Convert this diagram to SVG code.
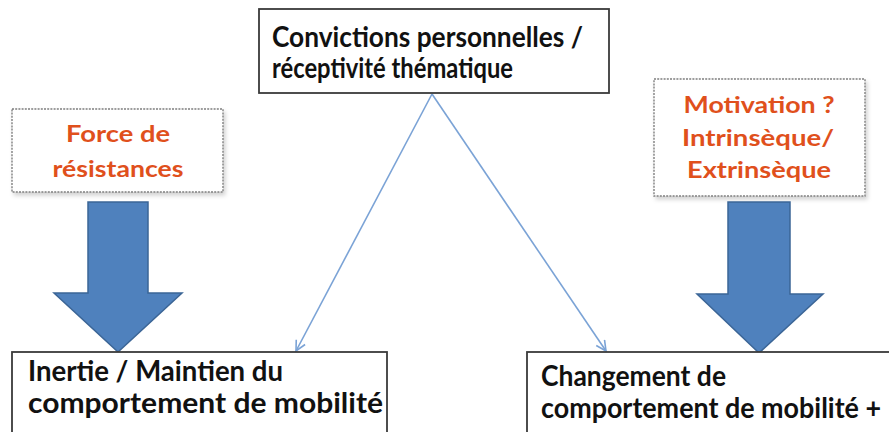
<svg xmlns="http://www.w3.org/2000/svg" width="889" height="432" viewBox="0 0 889 432">
<defs>
<style>
.box{fill:#fff;stroke:#3a3a3a;stroke-width:1.8}
.dbox{fill:#fff;stroke:#7f7f7f;stroke-width:1.4;stroke-dasharray:2 1.2}
.t{font-family:Lato,"Open Sans","Liberation Sans",sans-serif;font-weight:bold;font-size:28px;fill:#111}
.o{font-family:Lato,"Open Sans","Liberation Sans",sans-serif;font-weight:bold;font-size:22px;fill:#E0501C;text-anchor:middle}
.big{fill:#4F81BD;stroke:#3B6596;stroke-width:1.5}
.con{stroke:#7BA3D6;stroke-width:1.6;fill:none;marker-end:url(#ah)}
</style>
<marker id="ah" markerWidth="14" markerHeight="14" refX="11" refY="6" orient="auto" markerUnits="userSpaceOnUse">
<path d="M1,1 L11,6 L1,11" fill="none" stroke="#7BA3D6" stroke-width="1.6"/>
</marker>
<filter id="sh" x="-10%" y="-10%" width="125%" height="130%">
<feDropShadow dx="2" dy="3" stdDeviation="2" flood-color="#000" flood-opacity="0.18"/>
</filter>
</defs>
<g id="connectors">
<line class="con" x1="432" y1="94" x2="296" y2="351"/>
<line class="con" x1="432" y1="94" x2="606" y2="351"/>
</g>
<g id="top">
<rect class="box" x="259" y="9" width="350" height="84"/>
<text class="t" x="272" y="47" textLength="311" lengthAdjust="spacingAndGlyphs">Convictions personnelles /</text>
<text class="t" x="272" y="78" textLength="241" lengthAdjust="spacingAndGlyphs">réceptivité thématique</text>
</g>
<g id="force">
<rect class="dbox" x="12" y="109" width="211" height="83" filter="url(#sh)"/>
<text class="o" x="118" y="142" textLength="104" lengthAdjust="spacingAndGlyphs">Force de</text>
<text class="o" x="118" y="177" textLength="131" lengthAdjust="spacingAndGlyphs">résistances</text>
</g>
<g id="arrow-left">
<path class="big" d="M88,202 H148 V293 H182 L118,352 L54,293 H88 Z"/>
</g>
<g id="motivation">
<rect class="dbox" x="654" y="79" width="211" height="117" filter="url(#sh)"/>
<text class="o" x="759" y="113" textLength="151" lengthAdjust="spacingAndGlyphs">Motivation ?</text>
<text class="o" x="758" y="146" textLength="152" lengthAdjust="spacingAndGlyphs">Intrinsèque/</text>
<text class="o" x="759" y="178" textLength="144" lengthAdjust="spacingAndGlyphs">Extrinsèque</text>
</g>
<g id="arrow-right">
<path class="big" d="M728,202 H790 V294 H823 L759,353 L697,294 H728 Z"/>
</g>
<g id="inertie">
<rect class="box" x="12" y="352" width="375" height="100"/>
<text class="t" x="28" y="381" textLength="255" lengthAdjust="spacingAndGlyphs">Inertie / Maintien du</text>
<text class="t" x="28" y="413" textLength="355" lengthAdjust="spacingAndGlyphs">comportement de mobilité</text>
</g>
<g id="changement">
<rect class="box" x="527" y="352" width="380" height="100"/>
<text class="t" x="541" y="386" textLength="185" lengthAdjust="spacingAndGlyphs">Changement de</text>
<text class="t" x="541" y="418" textLength="340" lengthAdjust="spacingAndGlyphs">comportement de mobilité +</text>
</g>
</svg>
